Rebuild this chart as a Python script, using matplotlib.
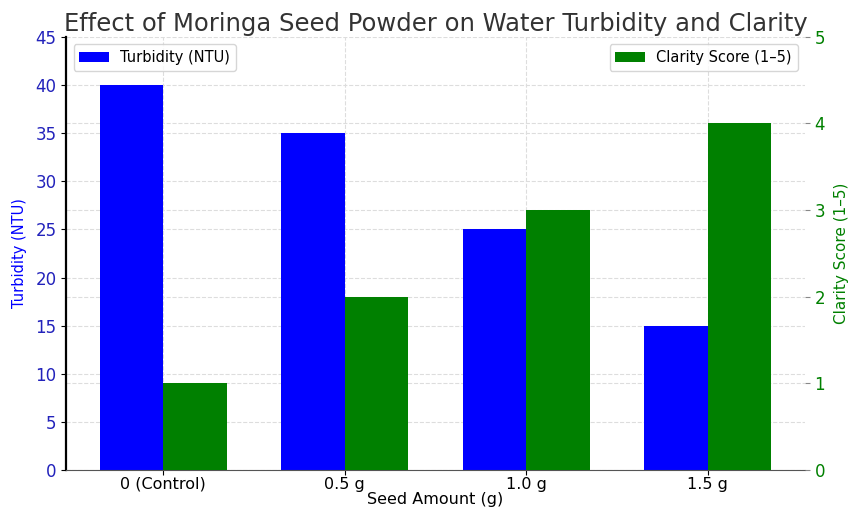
import numpy as np
import matplotlib.pyplot as plt
from matplotlib.lines import Line2D
from matplotlib.transforms import blended_transform_factory

categories = ['0 (Control)', '0.5 g', '1.0 g', '1.5 g']
turbidity = [40, 35, 25, 15]
clarity = [1, 2, 3, 4]

x = np.arange(len(categories))
w = 0.35

fig, ax1 = plt.subplots(figsize=(8.49, 5.12), dpi=100)
fig.subplots_adjust(left=0.078, right=0.948, top=0.928, bottom=0.082)

ax1.bar(x - w/2, turbidity, w, color='blue', label='Turbidity (NTU)')
ax1.set_ylim(0, 45)
ax1.set_ylabel('Turbidity (NTU)', color='blue', fontsize=10.5, labelpad=6)
ax1.tick_params(axis='y', labelcolor='#2222bb', labelsize=12)
ax1.tick_params(axis='x', labelsize=11.5, pad=1.5)
ax1.set_xticks(x)
ax1.set_xticklabels(categories)
ax1.set_xlabel('Seed Amount (g)', fontsize=11.5, labelpad=0)
ax1.grid(True, linestyle='--', color='#dddddd', linewidth=0.8)
ax1.set_axisbelow(True)
for s in ['top', 'right']:
    ax1.spines[s].set_visible(False)
ax1.spines['left'].set_linewidth(1.6)
ax1.spines['bottom'].set_color('#555555')

ax2 = ax1.twinx()
ax2.bar(x + w/2, clarity, w, color='green', label='Clarity Score (1–5)')
ax2.set_ylim(0, 5)
ax2.set_ylabel('Clarity Score (1–5)', color='green', fontsize=11, labelpad=6)
ax2.tick_params(axis='y', labelcolor='green', labelsize=12, color='#888888')
for s in ['top', 'right', 'left', 'bottom']:
    ax2.spines[s].set_visible(False)

# right-axis grid lines, drawn under the bars of the left axis
tr = blended_transform_factory(ax1.transAxes, ax2.transData)
for t in ax2.get_yticks()[1:-1]:
    ax1.add_artist(Line2D([0, 1], [t, t], transform=tr, linestyle='--',
                          color='#dddddd', linewidth=0.8, zorder=0.5))

ax1.legend(loc='upper left', fontsize=10.5)
ax2.legend(loc='upper right', fontsize=10.5)
plt.title('Effect of Moringa Seed Powder on Water Turbidity and Clarity', fontsize=17.5, color='#333333', pad=4)
plt.savefig('out.png')
